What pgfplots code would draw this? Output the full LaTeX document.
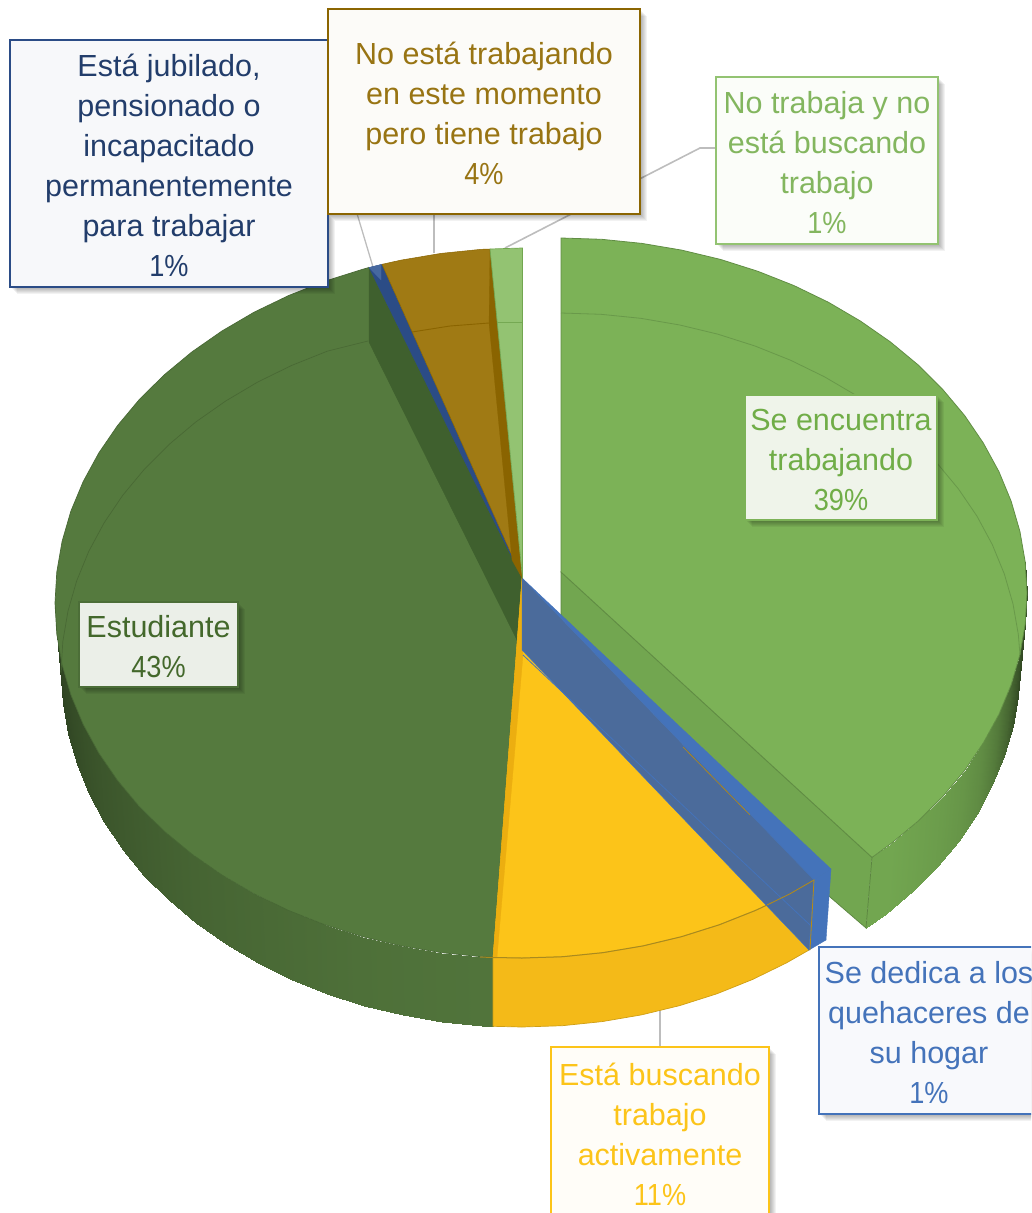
\documentclass[border=0pt]{standalone}
\usepackage{fontspec}
\setmainfont{Liberation Sans}
\newfontfamily\pct[FakeStretch=0.89]{Liberation Sans}
\usepackage{pgfplots}
\pgfplotsset{compat=1.18}
\definecolor{Gt}{HTML}{7CB257}
\definecolor{Gw}{HTML}{72A650}
\definecolor{Dt}{HTML}{557A3E}
\definecolor{Ds}{HTML}{3F602E}
\definecolor{Yt}{HTML}{FCC419}
\definecolor{Yw}{HTML}{F4BA18}
\definecolor{Ys}{HTML}{ECAE10}
\definecolor{Bw}{HTML}{4B6B9B}
\definecolor{Bb}{HTML}{4473BA}
\definecolor{Nd}{HTML}{2B4C86}
\definecolor{Nl}{HTML}{46689F}
\definecolor{Ot}{HTML}{A07A14}
\definecolor{Os}{HTML}{8A6400}
\definecolor{Lg}{HTML}{93C372}
\definecolor{Lead}{HTML}{BDBDBD}
\definecolor{YL}{HTML}{A98A1F}
\definecolor{FE}{HTML}{EFF4EA}
\definecolor{TG}{HTML}{70AD47}
\definecolor{TD}{HTML}{43682B}
\pgfplotsset{colormap={dg}{color=(black) color=(Dt)},colormap={gg}{color=(black) color=(Gw)}}
\newcommand\poly[2]{\addplot[#1] coordinates {#2} -- cycle;}
\newcommand\pline[2]{\addplot[#1] coordinates {#2};}
\newcommand\wall[2]{\addplot[patch,patch type=rectangle,shader=interp,point meta=explicit,colormap name=#1] coordinates {#2};}
\newcommand\tp{\rule{0pt}{25.3pt}}
\tikzset{
  sh/.style n args={2}{preaction={draw=none,fill=black,fill opacity=.05,transform canvas={shift={(#1pt,#2pt)}}}},
  lab/.style={rectangle,outer sep=0pt,inner sep=0pt,line width=2.4pt,align=center,
  font=\fontsize{30.5}{40}\selectfont,
  sh={7}{-7},sh={6}{-6},sh={5}{-5},sh={4}{-4},sh={3}{-3},sh={2}{-2},sh={1}{-1}}}
\begin{document}
\begin{tikzpicture}
\useasboundingbox (0,0) rectangle (1031pt,1213pt);
\clip (0,0) rectangle (1031pt,1213pt);
\begin{axis}[hide axis,scale only axis,width=1031pt,height=1213pt,
  xmin=0,xmax=1031,ymin=0,ymax=1213,y dir=reverse,clip=false,point meta min=0,point meta max=1]
% leaders
\pline{draw=Lead,line width=1.6pt}{(660,1005)(660,1050)}
\pline{draw=Lead,line width=1.6pt}{(434,205)(434,253)}
\pline{draw=Lead,line width=1.6pt}{(505,248)(700,148)(718,148)}
\pline{draw=Lead,line width=1.3pt}{(373,267)(338,150)}
% green wall
\wall{gg}{
(1018.3,634.3)[.42](1020,665)[.42](1027,593)[.42](1025.2,562)[.42]
(1020,665)[.42](1018.3,695.7)[.44](1025.2,624)[.44](1027,593)[.42]
(1018.3,695.7)[.44](1013,726.1)[.5](1019.9,654.6)[.5](1025.2,624)[.44]
(1013,726.1)[.5](1004.3,756.1)[.62](1011.1,684.9)[.62](1019.9,654.6)[.5]
(1004.3,756.1)[.62](992.3,785.4)[.74](998.9,714.4)[.74](1011.1,684.9)[.62]
(992.3,785.4)[.74](977,813.8)[.84](983.3,743)[.84](998.9,714.4)[.74]
(977,813.8)[.84](958.5,841)[.9](964.6,770.5)[.9](983.3,743)[.84]
(958.5,841)[.9](937,866.9)[.94](942.7,796.6)[.94](964.6,770.5)[.9]
(937,866.9)[.94](912.6,891.3)[.97](918,821.2)[.97](942.7,796.6)[.94]
(912.6,891.3)[.97](885.6,913.9)[1](890.5,844)[1](918,821.2)[.97]
(885.6,913.9)[1](866,928)[1](872,857.4)[1](890.5,844)[1]
}
% green cut wall
\poly{fill=Gw,draw=Gw!80!black,line width=.7pt}{(561,572)(872,857.4)(866,928)(830,897)(561,615)}
% green top
\poly{fill=Gt,draw=Gw!85!black,line width=.8pt}{(561,572)(561,238)(601.6,239.3)(641.9,243.4)(681.6,250.1)(720.4,259.4)(757.9,271.3)(794,285.6)(828.3,302.2)(860.5,321.1)(890.5,342)(918,364.8)(942.7,389.4)(964.6,415.5)(983.3,443)(998.9,471.6)(1011.1,501.1)(1019.9,531.4)(1025.2,562)(1027,593)(1025.2,624)(1019.9,654.6)(1011.1,684.9)(998.9,714.4)(983.3,743)(964.6,770.5)(942.7,796.6)(918,821.2)(890.5,844)(872,857.4)}
\pline{draw=Gw!92!black,line width=.8pt}{(561,313)(601,314.3)(640.7,318.3)(679.8,325)(718,334.2)(755,346)(790.5,360.2)(824.3,376.7)(856,395.3)(885.6,416.1)(912.6,438.7)(937,463.1)(958.5,489)(977,516.2)(992.3,544.6)(1004.3,573.9)(1013,603.9)(1018.3,634.3)(1020,655)}
% Estudiante wall
\wall{dg}{
(61,672.5)[.52](62.8,703.4)[.55](56.8,634)[.55](55,603)[.52]
(62.8,703.4)[.55](68,734)[.58](62.1,664.6)[.58](56.8,634)[.55]
(68,734)[.58](76.7,764.2)[.62](70.9,694.9)[.62](62.1,664.6)[.58]
(76.7,764.2)[.62](88.8,793.7)[.66](83.2,724.4)[.66](70.9,694.9)[.62]
(88.8,793.7)[.66](104.2,822.3)[.7](98.8,753)[.7](83.2,724.4)[.66]
(104.2,822.3)[.7](122.8,849.8)[.73](117.6,780.5)[.73](98.8,753)[.7]
(122.8,849.8)[.73](144.4,875.8)[.76](139.4,806.6)[.76](117.6,780.5)[.73]
(144.4,875.8)[.76](168.9,900)[.79](164.3,831.2)[.79](139.4,806.6)[.76]
(168.9,900)[.79](196,923.2)[.82](191.8,854)[.82](164.3,831.2)[.79]
(196,923.2)[.82](225.7,943.9)[.84](221.8,874.9)[.84](191.8,854)[.82]
(225.7,943.9)[.84](257.6,962.9)[.86](254.1,893.8)[.86](221.8,874.9)[.84]
(257.6,962.9)[.86](291.5,979.5)[.88](288.5,910.4)[.88](254.1,893.8)[.86]
(291.5,979.5)[.88](327.2,993.8)[.9](324.6,924.7)[.9](288.5,910.4)[.88]
(327.2,993.8)[.9](364.3,1005.6)[.92](362.3,936.6)[.92](324.6,924.7)[.9]
(364.3,1005.6)[.92](402.7,1014.9)[.93](401.1,945.9)[.93](362.3,936.6)[.92]
(402.7,1014.9)[.93](442,1021.6)[.94](440.9,952.6)[.94](401.1,945.9)[.93]
(442,1021.6)[.94](481.8,1025.7)[.95](481.3,956.7)[.95](440.9,952.6)[.94]
(481.8,1025.7)[.95](493,1026.3)[.95](493,957)[.95](481.3,956.7)[.95]
}
% yellow wall
\poly{fill=Yw,draw=Yw!85!black,line width=.7pt}{(493,957)(493,1026.3)(522,1027)(562.2,1025.7)(602,1021.6)(641.3,1014.9)(679.7,1005.6)(716.8,993.8)(752.5,979.5)(786.4,962.9)(809,950)(814,880)(789.9,893.8)(755.5,910.4)(719.4,924.7)(681.7,936.6)(642.9,945.9)(603.1,952.6)(562.7,956.7)(522,958)}
% Estudiante top
\poly{fill=Dt,draw=Dt!85!black,line width=.7pt}{(522,578)(369,267.5)(362.3,269.4)(324.6,281.3)(288.5,295.6)(254.1,312.2)(221.8,331.1)(191.8,352)(164.3,374.8)(139.4,399.4)(117.6,425.5)(98.8,453)(83.2,481.6)(70.9,511.1)(62.1,541.4)(56.8,572)(55,603)(56.8,634)(62.1,664.6)(70.9,694.9)(83.2,724.4)(98.8,753)(117.6,780.5)(139.4,806.6)(164.3,831.2)(191.8,854)(221.8,874.9)(254.1,893.8)(288.5,910.4)(324.6,924.7)(362.3,936.6)(401.1,945.9)(440.9,952.6)(481.3,956.7)(493,957)}
\pline{draw=Dt!86!black,line width=.7pt}{(61,672.5)(62.8,641.6)(68,611)(76.7,580.8)(88.8,551.3)(104.2,522.7)(122.8,495.2)(144.4,469.2)(168.9,444.6)(196,421.8)(225.7,401)(257.6,382.1)(291.5,365.5)(327.2,351.2)(368,341)}
\poly{fill=Ds,draw=Ds,line width=.4pt}{(369,267.5)(522,578)(522,650)(369,342)}
% yellow top
\poly{fill=Yt,draw=Yt!90!black,line width=.4pt}{(522,578)(493,957)(522,958)(562.7,956.7)(603.1,952.6)(642.9,945.9)(681.7,936.6)(719.4,924.7)(755.5,910.4)(789.9,893.8)(814,880)(522,650)}
\poly{fill=Ys,draw=Ys,line width=.3pt}{(522,578)(523,655)(497,957)(493,957)}
\pline{draw=YL,line width=1pt}{(480,957)(493,957.5)(522,958)(562.7,956.7)(603.1,952.6)(642.9,945.9)(681.7,936.6)(719.4,924.7)(755.5,910.4)(767,905)}
% blue slice
\poly{fill=Bb,draw=Bb,line width=.4pt}{(522,578)(831,869)(814,880)}
\poly{fill=Bw,draw=Bb,line width=.5pt}{(522,578)(814,880)(809,950)(522,650)}
\poly{fill=Bb,draw=Bb,line width=.4pt}{(814,880)(831,869)(826,940)(809,950)}
\pline{draw=Bb,line width=.8pt}{(523,655)(826,940)}
\pline{draw=Yw!75!black,line width=.8pt}{(767,905)(789.9,893.8)(814,880)(810,950)}
\pline{draw=Yw!75!black,line width=.6pt}{(683,747)(750,815)}
% dark blue
\poly{fill=Nd,draw=Nd,line width=.3pt}{(369,267.5)(382,264.3)(522,578)}
\poly{fill=Nl,draw=Nl,line width=.2pt}{(369,267.5)(381,264.5)(381,280)}
% brown
\poly{fill=Ot,draw=Os,line width=.5pt}{(382,264.3)(401.1,260.1)(440.9,253.4)(481.3,249.3)(490,249)(522,578)}
\poly{fill=Os,draw=Os,line width=.2pt}{(490,249)(497,322)(522,578)(512,560)(489,323)}
\pline{draw=Os,line width=.9pt}{(412,332)(450,326)(489,323)}
% light green
\poly{fill=Lg,draw=Gw,line width=.7pt}{(490,249)(522.5,248)(522.5,578)}
\pline{draw=Gw!90!Lg,line width=.8pt}{(497,322)(522,322)}
% labels
\node[lab,draw=Nd,fill=white!96!Nd,text=Nd!80!black,minimum width=318pt,minimum height=247pt] at (axis cs:169,163.5) {\tp Está jubilado,\\pensionado o\\incapacitado\\permanentemente\\para trabajar\\{\pct 1\%}};
\node[lab,draw=Os!95!Ot,fill=white!97!Ot,text=Ot!95!black,minimum width=312pt,minimum height=205pt] at (axis cs:484,111.5) {\tp No está trabajando\\en este momento\\pero tiene trabajo\\{\pct 4\%}};
\node[lab,draw=Lg,fill=white!96!Lg,text=Gt!95!white,minimum width=222pt,minimum height=167pt] at (axis cs:827,160.5) {\tp No trabaja y no\\está buscando\\trabajo\\{\pct 1\%}};
\node[lab,draw=Gt,fill=FE,text=TG,minimum width=192pt,minimum height=125pt] at (axis cs:841,457.5) {\tp Se encuentra\\trabajando\\{\pct 39\%}};
\node[lab,draw=Dt!90!black,fill=white!88!Dt,text=TD,minimum width=159pt,minimum height=85pt] at (axis cs:158.5,644.5) {\tp Estudiante\\{\pct 43\%}};
\node[lab,draw=Yt,fill=white!97!Yt,text=Yt,minimum width=218pt,minimum height=171pt] at (axis cs:660,1132.5) {\tp Está buscando\\trabajo\\activamente\\{\pct 11\%}};
\node[lab,draw=Bb,fill=white!96!Bb,text=Bb,minimum width=220pt,minimum height=167pt] at (axis cs:929,1030.5) {\tp Se dedica a los\\quehaceres de\\su hogar\\{\pct 1\%}};
\end{axis}
\end{tikzpicture}
\end{document}
